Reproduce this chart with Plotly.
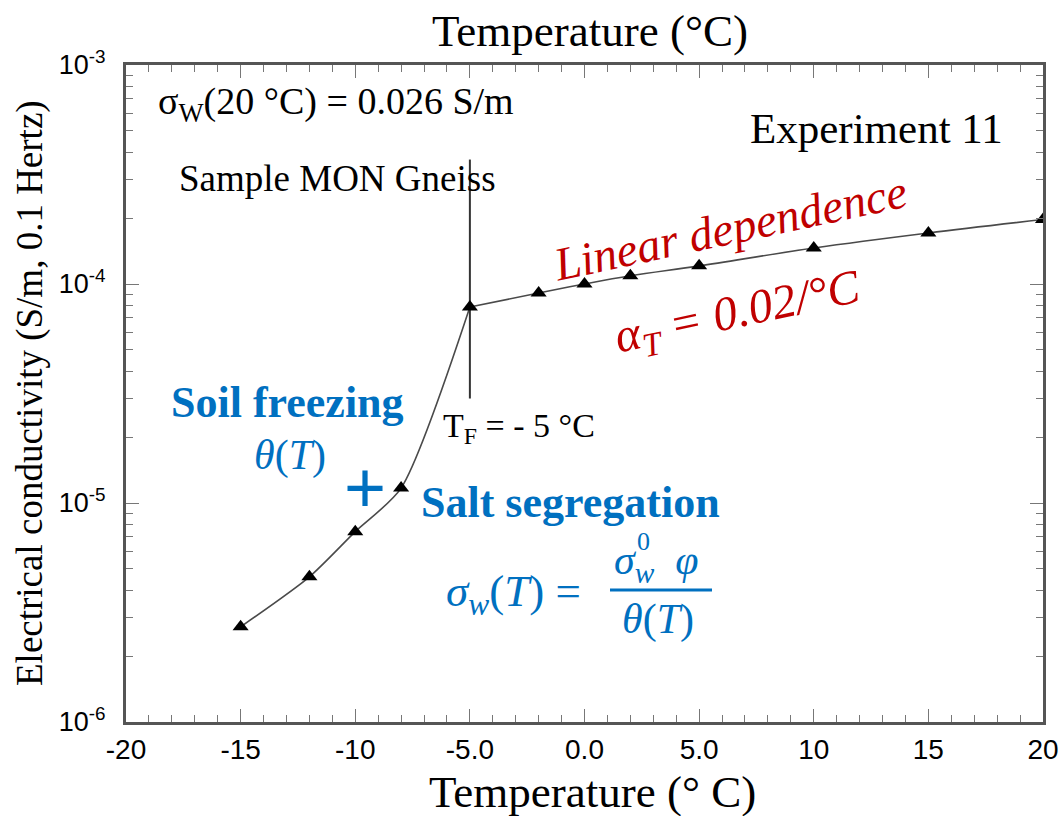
import plotly.graph_objects as go

# ---- data ----
temp_c = [-15, -12, -10, -8, -5, -2, 0, 2, 5, 10, 15, 20]
conductivity = [2.72e-6, 4.6e-6, 7.4e-6, 1.17e-5, 7.85e-5, 9.1e-5, 1.0e-4,
                1.09e-4, 1.21e-4, 1.46e-4, 1.71e-4, 1.97e-4]
freeze_temp = [-15, -12, -10, -8, -5]
freeze_cond = [2.72e-6, 4.6e-6, 7.4e-6, 1.17e-5, 7.85e-5]
linear_temp = [-5, -2, 0, 2, 5, 10, 15, 20]
linear_cond = [7.85e-5, 9.1e-5, 1.0e-4, 1.09e-4, 1.21e-4, 1.46e-4, 1.71e-4, 1.97e-4]
tf_line_x = [-5, -5]
tf_line_y = [3.7e-4, 3.0e-5]
x_tickvals = [-20, -15, -10, -5, 0, 5, 10, 15, 20]
x_ticktext = ["-20", "-15", "-10", "-5.0", "0.0", "5.0", "10", "15", "20"]
y_tickvals = [1e-6, 1e-5, 1e-4, 1e-3]
y_ticktext = ["10<sup>-6</sup>", "10<sup>-5</sup>", "10<sup>-4</sup>", "10<sup>-3</sup>"]

W, H = 1064, 816
L, R, T, B = 126, 1043, 65, 722  # plot area in page pixels

def px(x):
    return (x - L) / (R - L)

def py(y):
    return (B - y) / (B - T)

SERIF = "Liberation Serif, Times New Roman, serif"
SANS = "Liberation Sans, Arial, sans-serif"
BLUE = "#0070C0"
RED = "#C00000"

fig = go.Figure()
fig.add_trace(go.Scatter(x=freeze_temp, y=freeze_cond, mode="lines",
                         line=dict(color="#4a4a4a", width=1.6, shape="spline", smoothing=0.7),
                         showlegend=False, hoverinfo="skip"))
fig.add_trace(go.Scatter(x=linear_temp, y=linear_cond, mode="lines",
                         line=dict(color="#4a4a4a", width=1.6, shape="spline"),
                         showlegend=False, hoverinfo="skip"))
fig.add_trace(go.Scatter(x=tf_line_x, y=tf_line_y, mode="lines",
                         line=dict(color="#333333", width=2),
                         showlegend=False, hoverinfo="skip"))
fig.add_trace(go.Scatter(x=temp_c, y=conductivity, mode="markers",
                         marker=dict(symbol="triangle-up", size=14, color="black"),
                         showlegend=False))

ann = []

def add(text, x, y, size, color="black", family=SERIF, angle=0, xanchor="center"):
    ann.append(dict(text=text, x=px(x), y=py(y), xref="paper", yref="paper",
                    showarrow=False, font=dict(size=size, color=color, family=family),
                    textangle=angle, xanchor=xanchor, yanchor="middle"))

add("Temperature (°C)", 590, 31, 45)
add("Temperature (° C)", 592, 792, 45)
add("Electrical conductivity (S/m, 0.1 Hertz)", 30, 393, 37, angle=-90)
add("σ<sub>W</sub>(20 °C) = 0.026 S/m", 156, 104, 38, xanchor="left")
add("Sample MON Gneiss", 337, 178, 37)
add("Experiment 11", 876, 128, 43)
add("<i>Linear dependence</i>", 730, 228, 47, color=RED, angle=-12)
add("<i>α<sub>T</sub> = 0.02/°C</i>", 738, 314, 48, color=RED, angle=-12)
add("<b>Soil freezing</b>", 287, 402, 44, color=BLUE)
add("<i>θ</i>(<i>T</i>)", 290, 455, 42, color=BLUE)
add("+", 365, 487, 72, color=BLUE, family=SANS)
add("<b>Salt segregation</b>", 570, 502, 44, color=BLUE)
add("<i>σ<sub>w</sub></i>(<i>T</i>) =", 513, 594, 45, color=BLUE)
add("<i>σ<sub>w</sub></i>  <i>φ</i>", 656, 563, 42, color=BLUE)
add("0", 643, 541, 26, color=BLUE)
add("<i>θ</i>(<i>T</i>)", 658, 619, 42, color=BLUE)
add("T<sub>F</sub> = - 5 °C", 519, 428, 34)

fig.add_shape(type="line", xref="paper", yref="paper",
              x0=px(610), x1=px(712), y0=py(590), y1=py(590),
              line=dict(color=BLUE, width=3))

axis_common = dict(showline=True, linecolor="#555555", linewidth=3, mirror="ticks",
                   ticks="inside", ticklen=13, tickwidth=1.2, tickcolor="#777777",
                   showgrid=False, zeroline=False, ticklabeloverflow="allow",
                   automargin=False)

fig.update_xaxes(range=[-20, 20], tickvals=x_tickvals, ticktext=x_ticktext,
                 tickfont=dict(family=SANS, size=28, color="black"),
                 minor=dict(ticks="inside", ticklen=7, dtick=1, tickcolor="#777777", showgrid=False),
                 **axis_common)
fig.update_yaxes(type="log", range=[-6, -3], tickvals=y_tickvals, ticktext=y_ticktext,
                 tickfont=dict(family=SANS, size=27, color="black"),
                 ticklabelstandoff=12,
                 minor=dict(ticks="inside", ticklen=7, dtick="D1", tickcolor="#777777", showgrid=False),
                 **axis_common)

fig.update_layout(width=W, height=H, autosize=False,
                  margin=dict(l=L, r=W - R, t=T, b=H - B),
                  plot_bgcolor="white", paper_bgcolor="white",
                  annotations=ann, showlegend=False)

fig.write_html("out.html",
               config={"responsive": False, "displayModeBar": False},
               post_script="document.body.style.margin='0px';document.body.style.overflow='hidden';")
